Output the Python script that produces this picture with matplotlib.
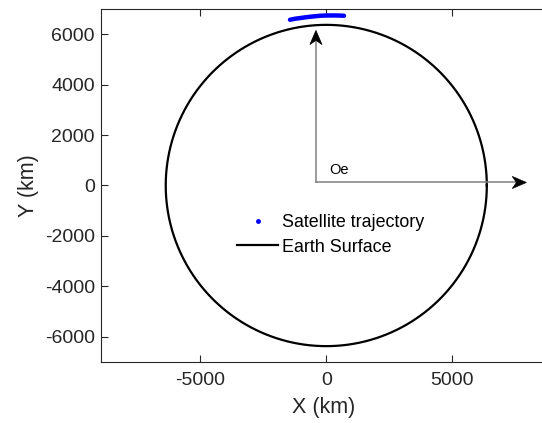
import numpy as np
import matplotlib
matplotlib.use("Agg")
import matplotlib.pyplot as plt
from matplotlib.lines import Line2D
from matplotlib.patches import Polygon

plt.rcParams["font.family"] = ["Liberation Sans", "DejaVu Sans"]
plt.rcParams["axes.unicode_minus"] = False

# Earth radius (km)
R_EARTH = 6371.0

# satellite ground track points (km)
traj_x = [-1440, -1242, -1044, -845, -647, -448, -250, -52, 147, 345, 544, 702]
traj_y = [6574, 6613, 6640, 6668, 6692, 6712, 6732, 6740, 6744, 6744, 6740, 6732]

# Earth-centred frame origin and axis tips (km)
origin = (-410, 120)
x_axis_tip = (7940, 120)
y_axis_tip = (-410, 6150)

xticks = [-5000, 0, 5000]
yticks = [-6000, -4000, -2000, 0, 2000, 4000, 6000]

dark = "#262626"

fig = plt.figure(figsize=(5.42, 4.23), dpi=100)
ax = fig.add_axes([101 / 542, 61 / 423, 445 / 542, 353 / 423])


def arrow(ax, start, tip, head_len=560, head_w=240, notch=0.3):
    # grey shaft + black MATLAB-like head with a notched back
    sx, sy = start
    tx, ty = tip
    d = np.array([tx - sx, ty - sy], dtype=float)
    d /= np.hypot(*d)
    n = np.array([-d[1], d[0]])
    tipv = np.array([tx, ty], dtype=float)
    base = tipv - d * head_len
    ax.plot([sx, base[0] + d[0] * head_len * notch], [sy, base[1] + d[1] * head_len * notch],
            color="#808080", lw=1.1, zorder=2)
    head = [tipv, base + n * head_w, base + d * head_len * notch, base - n * head_w]
    ax.add_patch(Polygon(head, closed=True, facecolor="black", edgecolor="black",
                         lw=0.5, zorder=3))


theta = np.linspace(0, 2 * np.pi, 721)
ax.plot(R_EARTH * np.cos(theta), R_EARTH * np.sin(theta), color="black", lw=1.6, zorder=2)

ax.plot(traj_x, traj_y, color="blue", lw=3.2, solid_capstyle="round", zorder=4)

arrow(ax, origin, x_axis_tip)
arrow(ax, origin, y_axis_tip)
ax.text(origin[0] + 520, origin[1] + 500, "Oe", fontsize=10.5, color="black",
        ha="left", va="center")

ax.set_xlim(-8940, 8720)
ax.set_ylim(-7000, 7000)
ax.set_xticks(xticks)
ax.set_yticks(yticks)
ax.tick_params(direction="in", length=5, width=0.8, colors=dark, labelsize=14,
               top=True, right=False)
ax.tick_params(axis="x", pad=7)
ax.tick_params(axis="y", pad=4.5)
for s in ax.spines.values():
    s.set_color(dark)
    s.set_linewidth(0.8)

ax.set_xlabel("X (km)", fontsize=15.5, color=dark, labelpad=6)
ax.set_ylabel("Y (km)", fontsize=15.5, color=dark, labelpad=4)

handles = [
    Line2D([], [], color="blue", marker=".", markersize=5, linestyle="none"),
    Line2D([], [], color="black", lw=1.6),
]
ax.legend(handles, ["Satellite trajectory", "Earth Surface"], loc="center left",
          bbox_to_anchor=(0.3056, 0.3598), frameon=False, fontsize=12.9,
          handlelength=2.3, handletextpad=0.2, labelspacing=0.42,
          borderpad=0, borderaxespad=0)

fig.savefig("out.png", dpi=100)
